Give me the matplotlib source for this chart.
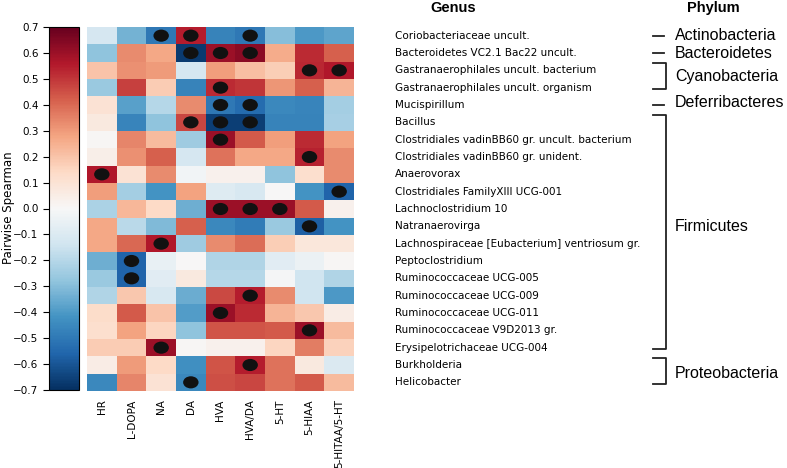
import numpy as np
import matplotlib
matplotlib.use('Agg')
import matplotlib.pyplot as plt
from matplotlib.patches import Ellipse
from matplotlib.transforms import blended_transform_factory

# columns (metabolites) and rows (genera)
columns = ['HR', 'L-DOPA', 'NA', 'DA', 'HVA', 'HVA/DA', '5-HT', '5-HIAA', '5-HITAA/5-HT']
genera = ['Coriobacteriaceae uncult.',
          'Bacteroidetes VC2.1 Bac22 uncult.',
          'Gastranaerophilales uncult. bacterium',
          'Gastranaerophilales uncult. organism',
          'Mucispirillum',
          'Bacillus',
          'Clostridiales vadinBB60 gr. uncult. bacterium',
          'Clostridiales vadinBB60 gr. unident.',
          'Anaerovorax',
          'Clostridiales FamilyXIII UCG-001',
          'Lachnoclostridium 10',
          'Natranaerovirga',
          'Lachnospiraceae [Eubacterium] ventriosum gr.',
          'Peptoclostridium',
          'Ruminococcaceae UCG-005',
          'Ruminococcaceae UCG-009',
          'Ruminococcaceae UCG-011',
          'Ruminococcaceae V9D2013 gr.',
          'Erysipelotrichaceae UCG-004',
          'Burkholderia',
          'Helicobacter']

# pairwise spearman, one list per genus
rho = [
    [-0.12, -0.33, -0.50, 0.55, -0.47, -0.50, -0.30, -0.40, -0.37],
    [-0.28, 0.33, 0.27, -0.67, 0.60, 0.63, 0.26, 0.52, 0.42],
    [0.20, 0.32, 0.30, -0.12, 0.29, 0.21, 0.17, 0.53, 0.56],
    [-0.26, 0.48, 0.18, -0.47, 0.52, 0.50, 0.31, 0.42, 0.24],
    [0.10, -0.38, -0.20, 0.33, -0.50, -0.54, -0.45, -0.46, -0.24],
    [0.07, -0.46, -0.28, 0.47, -0.66, -0.66, -0.47, -0.47, -0.23],
    [0.01, 0.34, 0.22, -0.25, 0.60, 0.43, 0.29, 0.52, 0.28],
    [0.04, 0.32, 0.42, -0.12, 0.38, 0.27, 0.27, 0.54, 0.33],
    [0.56, 0.10, 0.33, -0.02, 0.03, 0.03, -0.28, 0.12, 0.33],
    [0.29, -0.24, -0.42, 0.28, -0.09, -0.11, 0.00, -0.42, -0.56],
    [-0.22, 0.23, 0.14, -0.34, 0.60, 0.60, 0.60, 0.43, 0.03],
    [0.27, -0.19, -0.31, 0.42, -0.45, -0.49, -0.26, -0.57, -0.42],
    [0.27, 0.40, 0.56, -0.25, 0.33, 0.39, 0.17, 0.08, 0.08],
    [-0.34, -0.56, -0.05, 0.00, -0.21, -0.21, -0.08, -0.04, 0.01],
    [-0.26, -0.56, -0.08, 0.07, -0.20, -0.20, -0.01, -0.14, -0.21],
    [-0.21, 0.19, -0.11, -0.35, 0.46, 0.55, 0.33, -0.14, -0.40],
    [0.13, 0.43, 0.20, -0.39, 0.60, 0.52, 0.24, 0.19, 0.05],
    [0.12, 0.28, 0.15, -0.28, 0.44, 0.44, 0.43, 0.60, 0.22],
    [0.18, 0.18, 0.60, 0.01, 0.03, 0.03, 0.15, 0.36, 0.16],
    [0.05, 0.30, 0.14, -0.43, 0.44, 0.55, 0.38, 0.07, -0.10],
    [-0.45, 0.34, 0.10, -0.45, 0.45, 0.47, 0.38, 0.43, 0.22],
]

# significant cells (column indices per genus)
signif = [[2, 3, 5], [3, 4, 5], [7, 8], [4], [4, 5], [3, 4, 5], [4], [7], [0], [8],
          [4, 5, 6], [7], [2], [1], [1], [5], [4], [7], [2], [5], [3]]

phyla = ['Actinobacteria', 'Bacteroidetes', 'Cyanobacteria', 'Deferribacteres',
         'Firmicutes', 'Proteobacteria']
phylum_first = [0, 1, 2, 4, 5, 19]
phylum_last = [0, 1, 3, 4, 18, 20]
phylum_label_row = [0, 1, 2.35, 3.85, 11, 19.5]

W, H = 787, 468
fig = plt.figure(figsize=(W / 100, H / 100), dpi=100)
ax = fig.add_axes([87 / W, 1 - 391 / H, 267 / W, 364 / H])
cax = fig.add_axes([49 / W, 1 - 390 / H, 30 / W, 363 / H])

im = ax.imshow(np.array(rho), cmap='RdBu_r', vmin=-0.7, vmax=0.7,
               aspect='auto', interpolation='nearest')
for r, cols in enumerate(signif):
    for c in cols:
        ax.add_patch(Ellipse((c, r), 0.52, 0.7, color='#111111', lw=0))

ax.set_xticks(range(len(columns)))
ax.set_xticklabels(columns, rotation=90, fontsize=7.5)
ax.tick_params(axis='x', length=0, pad=6)
ax.set_yticks([])
for s in ax.spines.values():
    s.set_visible(False)

ticks = np.round(np.arange(-0.7, 0.71, 0.1), 1)
cb = fig.colorbar(im, cax=cax, ticks=ticks)
cax.set_yticklabels([('%.1f' % (t + 0.0)).replace('-', '\u2212') for t in ticks])
cax.yaxis.set_ticks_position('left')
cax.tick_params(labelsize=7.5, length=4, width=0.8)
cb.outline.set_linewidth(0.8)
fig.text(9 / W, 1 - 208 / H, 'Pairwise Spearman', rotation=90, fontsize=8.5,
         ha='center', va='center')

trans = blended_transform_factory(fig.transFigure, ax.transData)
for i, name in enumerate(genera):
    ax.text(395 / W, i, name, transform=trans, fontsize=7.5, ha='left', va='center')

arial = 'Liberation Sans'
x0, x1 = 653 / W, 666 / W
for name, a, b, lr in zip(phyla, phylum_first, phylum_last, phylum_label_row):
    if a == b:
        ax.plot([x0, x1 - 2 / W], [a, a], transform=trans, color='#222222',
                lw=1.3, clip_on=False)
    else:
        ax.plot([x0, x1, x1, x0], [a - 0.4, a - 0.4, b + 0.1, b + 0.1],
                transform=trans, color='#222222', lw=1.3, clip_on=False)
    ax.text(675 / W, lr, name, transform=trans, fontsize=11.5, family=arial,
            ha='left', va='center')

fig.text(453 / W, 1 - 8 / H, 'Genus', fontsize=10.5, fontweight='bold',
         family=arial, ha='center', va='center')
fig.text(713 / W, 1 - 8 / H, 'Phylum', fontsize=10.5, fontweight='bold',
         family=arial, ha='center', va='center')

fig.savefig('out.png', dpi=100)
